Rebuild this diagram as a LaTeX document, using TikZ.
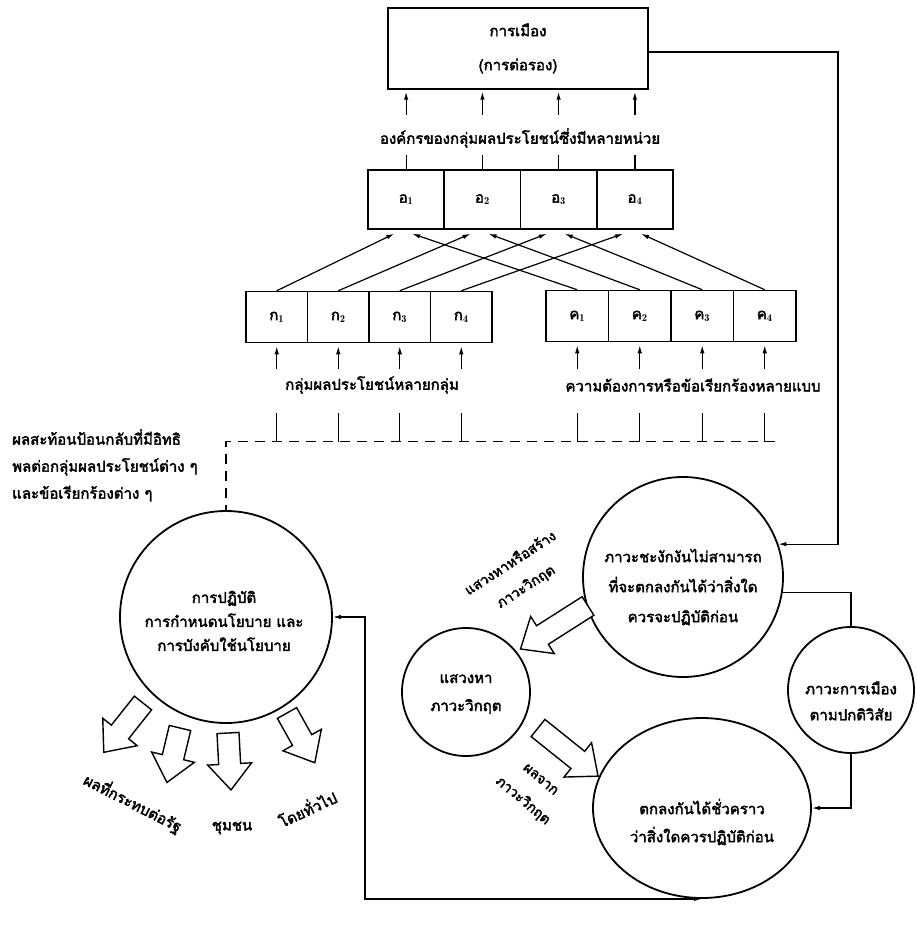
\documentclass[tikz,border=0pt]{standalone}
\usepackage{fontspec}
\newfontfamily\thai[Script=Thai,FakeBold=2.5]{Loma}
\usetikzlibrary{arrows.meta,calc,shapes.geometric}
\newcommand\blkarrow[4]{%
  \begin{scope}[shift={(#1,#2)},rotate=#3]
    \draw[blk] (0,-11) -- ({#4-26},-11) -- ({#4-26},-22) -- (#4,0) -- ({#4-26},22) -- ({#4-26},11) -- (0,11) -- cycle;
  \end{scope}}
\begin{document}
\begin{tikzpicture}[x=1pt,y=-1pt,
  txt/.style={font=\thai\fontsize{15}{18}\selectfont, inner sep=0pt},
  cell/.style={draw, line width=1.5pt, minimum height=51pt, inner sep=0pt, font=\thai\fontsize{15}{18}\selectfont},
  ocell/.style={cell, minimum width=76.25pt, minimum height=59pt},
  gcell/.style={cell, minimum width=61.5pt},
  kcell/.style={cell, minimum width=62.5pt},
  circ/.style={draw, circle, line width=1.8pt, inner sep=0pt},
  conn/.style={line width=1.2pt, -{Latex[length=8pt,width=4.5pt]}},
  dconn/.style={line width=1.2pt, {Latex[length=8pt,width=4.5pt]}-{Latex[length=8pt,width=4.5pt]}},
  plain/.style={line width=1.2pt},
  fb/.style={line width=1.2pt, dash pattern=on 10pt off 7pt},
  blk/.style={draw, line width=1.4pt, fill=white, line join=miter},
]
\useasboundingbox[fill=white] (0,0) rectangle (917,928);

% top box
\node[draw, line width=1.5pt, minimum width=260pt, minimum height=81pt, inner sep=0pt, align=center,
      font=\thai\fontsize{15}{34}\selectfont] (top) at (518,48.5) {การเมือง\\(การต่อรอง)};

% organisation cells
\node[ocell] (o1) at (406.1,199.5) {อ$_{\mathbf 1}$};
\node[ocell] (o2) at (482.4,199.5) {อ$_{\mathbf 2}$};
\node[ocell] (o3) at (558.6,199.5) {อ$_{\mathbf 3}$};
\node[ocell] (o4) at (634.9,199.5) {อ$_{\mathbf 4}$};
\node[txt] (olab) at (520,138) {องค์กรของกลุ่มผลประโยชน์ซึ่งมีหลายหน่วย};

% interest group cells
\node[gcell] (g1) at (276.75,317) {ก$_{\mathbf 1}$};
\node[gcell] (g2) at (338.25,317) {ก$_{\mathbf 2}$};
\node[gcell] (g3) at (399.75,317) {ก$_{\mathbf 3}$};
\node[gcell] (g4) at (461.25,317) {ก$_{\mathbf 4}$};
% demand cells
\node[kcell] (k1) at (577.25,316) {ค$_{\mathbf 1}$};
\node[kcell] (k2) at (639.75,316) {ค$_{\mathbf 2}$};
\node[kcell] (k3) at (702.25,316) {ค$_{\mathbf 3}$};
\node[kcell] (k4) at (764.75,316) {ค$_{\mathbf 4}$};

\node[txt] (glab) at (372,385) {กลุ่มผลประโยชน์หลายกลุ่ม};
\node[txt] (klab) at (693,385) {ความต้องการหรือข้อเรียกร้องหลายแบบ};

\foreach \i in {1,...,4} {
  \draw[plain] (o\i.north) -- ++(0,-14);
  \draw[conn, shorten >=2pt] ($(o\i.north)+(0,-54)$) -- (o\i.north |- top.south);
  \draw[conn] (g\i.north) -- ($(o\i.south west)+(27,4)$);
  \draw[conn] (k\i.north) -- ($(o\i.south west)+(45,4)$);
  \draw[conn, shorten >=3pt] ($(g\i.south)+(0,26)$) -- (g\i.south);
  \draw[conn, shorten >=3pt] ($(k\i.south)+(0,27)$) -- (k\i.south);
  \draw[plain] ($(g\i.south)+(0,70)$) -- ($(g\i.south)+(0,99)$);
  \draw[plain] ($(k\i.south)+(0,71)$) -- ($(k\i.south)+(0,100)$);
}

% circles
\node[circ, minimum size=212pt] (practice) at (226,617) {};
\node[txt, align=center, font=\thai\fontsize{15}{24}\selectfont] (practiceT) at (224,621)
  {การปฏิบัติ\\การกำหนดนโยบาย และ\\การบังคับใช้นโยบาย};
\node[circ, minimum size=200pt] (stall) at (683,577) {};
\node[txt, align=center, font=\thai\fontsize{15}{30}\selectfont] (stallT) at (683,587)
  {ภาวะชะงักงันไม่สามารถ\\ที่จะตกลงกันได้ว่าสิ่งใด\\ควรจะปฏิบัติก่อน};
\node[circ, minimum size=128pt] (seek) at (466,692) {};
\node[txt, align=center, font=\thai\fontsize{15}{28}\selectfont] (seekT) at (466,694)
  {แสวงหา\\ภาวะวิกฤต};
\node[circ, minimum size=126pt] (normal) at (851,690) {};
\node[txt, align=center, font=\thai\fontsize{15}{26}\selectfont] (normalT) at (851,701)
  {ภาวะการเมือง\\ตามปกติวิสัย};
\node[draw, ellipse, line width=1.8pt, inner sep=0pt, minimum width=218pt, minimum height=180pt] (agree) at (702,808) {};
\node[txt, align=center, font=\thai\fontsize{15}{28}\selectfont] (agreeT) at (702,822)
  {ตกลงกันได้ชั่วคราว\\ว่าสิ่งใดควรปฏิบัติก่อน};

% feedback text
\node[txt, anchor=north west, align=left, font=\thai\fontsize{15}{27}\selectfont] (fbtext) at (12,429)
  {ผลสะท้อนป้อนกลับที่มีอิทธิ\\พลต่อกลุ่มผลประโยชน์ต่าง ๆ\\และข้อเรียกร้องต่าง ๆ};

% dashed feedback line
\coordinate (fbR) at (775,441.5);
\draw[fb] (fbR) -- (practice.north |- fbR) -- (practice.north);

% connectors
\coordinate (c1) at (838,52);
\draw[conn] (top.east |- c1) -- (c1) |- (stall.19);
\draw[plain] (stall.-9) -| (normal.north);
\draw[conn] (normal.south) |- (agree.east);
\coordinate (c2) at (365,897);
\draw[dconn] (agree.south) -- (agree.south -| c2) |- (practice.east);

% block arrows
\blkarrow{588}{606}{212.5}{80}
\blkarrow{538}{728}{-38.7}{77}
\blkarrow{143}{703}{231.5}{63}
\blkarrow{180}{728}{256.5}{56}
\blkarrow{228}{733}{-87}{57}
\blkarrow{287}{713}{-60.8}{57}

% arrow captions
\node[txt, rotate=33, align=center, font=\thai\fontsize{14}{28}\selectfont] (seekcap) at (518,575) {แสวงหาหรือสร้าง\\ภาวะวิกฤต};
\node[txt, rotate=-40, align=center, font=\thai\fontsize{14}{28}\selectfont] (rescap) at (531,791) {ผลจาก\\ภาวะวิกฤต};
\node[txt, rotate=-27] (out1) at (133,803) {ผลที่กระทบต่อรัฐ};
\node[txt] (out2) at (232,828) {ชุมชน};
\node[txt, rotate=25] (out3) at (307,808) {โดยทั่วไป};
\end{tikzpicture}
\end{document}
